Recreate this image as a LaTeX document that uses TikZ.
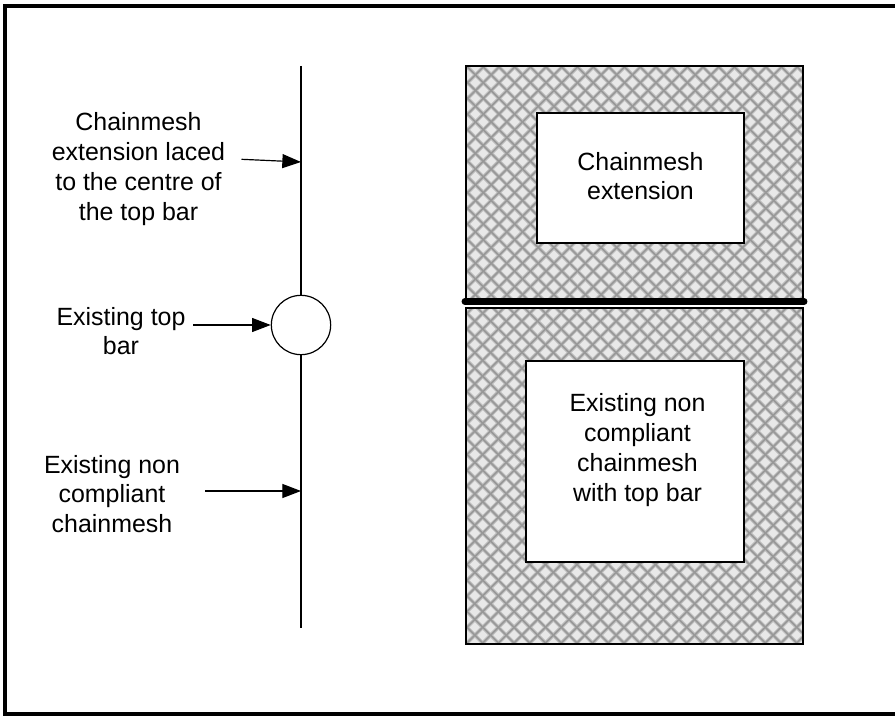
\documentclass[tikz,border=0pt]{standalone}
\usepackage{fontspec}
\setmainfont{Liberation Sans}
\usepackage{xcolor}
\usetikzlibrary{arrows.meta}
\definecolor{meshfill}{HTML}{E8E8E8}
\definecolor{meshsoft}{HTML}{C0C0C0}
\definecolor{meshline}{HTML}{989898}
\tikzset{
    >={Triangle[length=14pt,width=10.5pt]},
    label text/.style={align=center, font=\fontsize{18.7}{22.3}\selectfont, inner sep=0pt},
    pointer/.style={->, line width=.9pt},
    window/.style={draw=black, fill=white, line width=1.1pt},
}
\newcommand{\meshlines}[6]{% x0,y0,x1,y1, one crossing cx,cy
    \fill[meshfill] (#1,#2) rectangle (#3,#4);
    \begin{scope}
        \clip (#1,#2) rectangle (#3,#4);
        \foreach \c/\w in {meshsoft/2.7pt,meshline/1.2pt}
        \foreach \k in {-50,...,50} {
            \draw[\c, line width=\w] (#5+15.7*\k-700,#6-700) -- ++(1400,1400);
            \draw[\c, line width=\w] (#5+15.7*\k+700,#6-700) -- ++(-1400,1400);
        }
    \end{scope}
    \draw[line width=1.1pt] (#1,#2) rectangle (#3,#4);
}
\begin{document}
\begin{tikzpicture}[x=.75pt,y=-.75pt]
        \useasboundingbox (0,0) rectangle (895,716);
        \draw[line width=3.1pt] (895,6.1) -- (5.3,6.1) -- (5.3,713.8) -- (895,713.8);
        % mesh panels
        \meshlines{466}{66}{803}{301}{483.3}{67}
        \meshlines{466}{308}{803}{644}{482.7}{313.3}
        \draw[window] (537,113) rectangle (744,243);
        \draw[window] (526,361) rectangle (744,562);
        \draw[line width=5.2pt, line cap=round] (465,301.5) -- (804,301.5);
        \node[label text] (extension) at (640.5,176) {Chainmesh\\extension};
        \node[label text] (existing) at (637.5,450) {Existing non\\compliant\\chainmesh\\with top bar};
        % section through the fence
        \node[draw, circle, fill=white, line width=.9pt, minimum size=44.5pt, inner sep=0pt] (bar) at (301,325) {};
        \coordinate (top) at (301,66);
        \coordinate (bottom) at (301,628);
        \draw[line width=.95pt] (top) -- (bar);
        \draw[line width=1.4pt] (bar) -- (bottom);
        \node[label text] (lacedtext) at (138.5,169) {Chainmesh\\extension laced\\to the centre of\\the top bar};
        \node[label text] (bartext) at (121,331) {Existing top\\bar};
        \node[label text] (oldtext) at (112,494) {Existing non\\compliant\\chainmesh};
        \coordinate (lacedfrom) at (241.5,159.3);
        \coordinate (lacedto) at (301,162);
        \coordinate (barfrom) at (193,325);
        \coordinate (oldfrom) at (205,491);
        \coordinate (oldto) at (301,491);
        \draw[pointer] (lacedfrom) -- (lacedto);
        \draw[pointer] (barfrom) -- (bar);
        \draw[pointer] (oldfrom) -- (oldto);
    \end{tikzpicture}
\end{document}
